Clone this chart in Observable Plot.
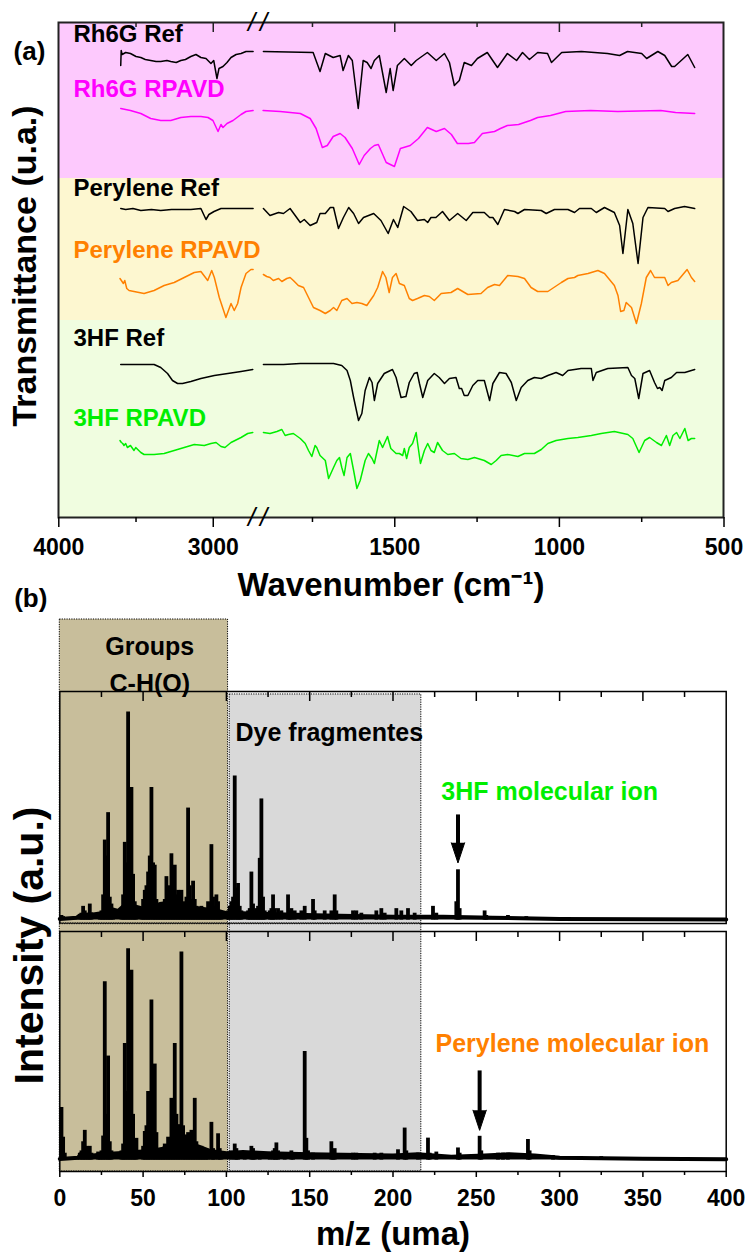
<!DOCTYPE html>
<html><head><meta charset="utf-8">
<script src="https://cdn.jsdelivr.net/npm/d3@7"></script>
<script src="https://cdn.jsdelivr.net/npm/@observablehq/plot@0.6"></script>
<style>
html,body{margin:0;padding:0;background:#fff;}
#fig{position:relative;width:748px;height:1254px;overflow:hidden;background:#fff;}
#fig svg{position:absolute;left:0;overflow:visible;background:transparent;max-width:none;
  font-family:"Liberation Sans",Arial,sans-serif;font-weight:bold;font-size:23px;}
</style></head><body><div id="fig"></div>
<script>
// ---------- Panel (a): FTIR spectra (wavenumber cm-1, transmittance a.u. with offsets) ----------
const IR_LABELS = ["Rh6G Ref","Rh6G RPAVD","Perylene Ref","Perylene RPAVD","3HF Ref","3HF RPAVD"];
const WN_TICKS = [4000, 3000, 1500, 1000, 500];
const WN_MINOR = [3500, 1750, 1250, 750];

const RH6G_REF_L = [[3599,452],[3596,467],[3590,463],[3567,465],[3536,464],[3500,461],[3469,460],[3440,458],[3405,457],[3370,456],[3340,456],[3300,457],[3275,456],[3240,455],[3210,457],[3180,458],[3145,461],[3112,463],[3080,460],[3047,459],[3015,454],[2997,457],[2976,439],[2963,449],[2937,451],[2911,455],[2885,460],[2852,463],[2820,464],[2788,466],[2742,466]];
const RH6G_REF_R = [[1899,466],[1748,465],[1727,446],[1711,464],[1687,460],[1666,462],[1657,447],[1641,462],[1629,457],[1611,409],[1596,457],[1584,455],[1572,449],[1562,457],[1547,462],[1526,425],[1514,449],[1505,427],[1492,452],[1471,459],[1450,452],[1435,457],[1401,465],[1374,457],[1349,464],[1334,455],[1319,432],[1304,437],[1289,455],[1267,452],[1249,459],[1219,465],[1188,450],[1158,464],[1130,457],[1112,465],[1091,458],[1066,465],[1036,464],[1024,455],[993,465],[933,466],[854,464],[817,462],[793,466],[750,464],[735,459],[701,466],[680,462],[659,451],[650,451],[610,463],[589,450]];
const RH6G_RPAVD_L = [[3599,409],[3536,407],[3469,404],[3405,399],[3340,397],[3275,397],[3210,400],[3145,401],[3080,401],[3034,400],[3002,397],[2969,386],[2950,393],[2937,390],[2911,394],[2872,397],[2820,403],[2788,406],[2742,407]];
const RH6G_RPAVD_R = [[1900,407],[1848,406],[1787,404],[1757,399],[1739,389],[1720,370],[1705,372],[1687,381],[1666,384],[1651,380],[1629,369],[1608,353],[1593,362],[1574,369],[1562,372],[1550,373],[1526,355],[1501,351],[1483,369],[1453,372],[1428,379],[1401,390],[1374,386],[1349,389],[1328,383],[1310,374],[1276,374],[1258,375],[1234,384],[1197,386],[1179,389],[1158,392],[1124,393],[1088,397],[1066,400],[1027,402],[981,406],[905,407],[823,406],[692,407],[647,405],[589,404]];
const PER_REF_L = [[3599,309],[3567,308],[3520,309],[3469,307],[3400,308],[3340,307],[3270,308],[3210,308],[3145,308],[3080,309],[3047,298],[3028,303],[2995,306],[2950,309],[2852,309],[2742,309]];
const PER_REF_R = [[1899,309],[1879,302],[1853,305],[1838,304],[1818,309],[1787,295],[1775,298],[1757,292],[1737,295],[1727,304],[1711,304],[1696,310],[1686,310],[1671,289],[1656,300],[1640,310],[1625,304],[1610,294],[1595,300],[1564,304],[1542,297],[1520,284],[1504,298],[1491,290],[1473,311],[1451,306],[1431,297],[1410,298],[1400,295],[1390,300],[1375,300],[1355,306],[1334,297],[1309,304],[1283,297],[1263,305],[1228,305],[1212,300],[1202,300],[1187,293],[1167,308],[1136,306],[1126,304],[1106,308],[1055,307],[1040,304],[1015,308],[974,308],[954,305],[939,309],[903,309],[888,305],[863,310],[833,305],[817,292],[807,264],[792,308],[777,294],[761,254],[746,300],[731,310],[680,309],[670,306],[650,309],[620,311],[589,309]];
const PER_RPAVD_L = [[3604,239],[3595,237],[3582,234],[3573,237],[3560,229],[3545,227],[3513,226],[3448,224],[3383,227],[3318,232],[3253,235],[3188,240],[3123,245],[3080,246],[3036,237],[3010,247],[2993,240],[2961,220],[2918,200],[2885,214],[2864,207],[2842,214],[2820,230],[2788,244],[2756,248],[2742,248]];
const PER_RPAVD_R = [[1899,243],[1889,241],[1879,240],[1869,237],[1853,239],[1843,236],[1828,239],[1818,240],[1808,237],[1793,232],[1777,230],[1762,220],[1747,210],[1727,207],[1711,204],[1696,207],[1686,210],[1676,207],[1661,217],[1645,219],[1630,214],[1615,215],[1600,214],[1585,212],[1564,222],[1552,230],[1537,246],[1527,240],[1517,225],[1507,240],[1496,244],[1486,234],[1471,232],[1456,219],[1446,217],[1431,219],[1410,222],[1395,221],[1380,217],[1359,224],[1329,225],[1309,229],[1278,223],[1238,224],[1218,230],[1197,233],[1182,232],[1157,242],[1126,241],[1106,239],[1086,230],[1066,226],[1035,226],[994,235],[974,239],[954,240],[944,242],[913,244],[883,247],[863,244],[833,232],[822,222],[814,206],[804,207],[797,215],[781,210],[766,194],[751,214],[736,240],[723,247],[711,240],[680,240],[670,232],[660,235],[640,237],[612,248],[599,240],[589,236]];
const HF_REF_L = [[3599,153],[3383,153],[3340,150],[3296,144],[3264,137],[3231,134],[3199,134],[3145,136],[3080,139],[2993,142],[2906,144],[2820,146],[2744,148]];
const HF_REF_R = [[1899,153],[1838,153],[1787,154],[1747,154],[1686,154],[1661,152],[1645,147],[1635,137],[1625,120],[1610,97],[1600,104],[1590,127],[1577,140],[1569,135],[1562,117],[1552,134],[1532,144],[1507,148],[1496,140],[1481,120],[1466,121],[1456,135],[1441,144],[1432,145],[1425,134],[1415,120],[1400,137],[1380,144],[1365,140],[1349,134],[1334,139],[1314,140],[1304,129],[1297,129],[1289,122],[1278,122],[1263,132],[1248,137],[1228,137],[1212,117],[1202,134],[1182,145],[1162,144],[1146,135],[1131,117],[1116,130],[1096,137],[1076,140],[1055,139],[1035,142],[1010,145],[990,142],[974,147],[934,149],[903,149],[898,137],[888,145],[853,149],[792,150],[781,142],[771,139],[759,119],[746,144],[726,147],[711,135],[702,129],[695,130],[688,127],[680,137],[660,140],[644,145],[619,145],[589,148]];
const HF_RPAVD_L = [[3604,77],[3595,75],[3586,74],[3578,72],[3567,74],[3556,70],[3536,72],[3513,67],[3502,70],[3469,65],[3448,63],[3383,63],[3318,64],[3253,67],[3188,70],[3123,73],[3058,72],[3015,74],[2982,75],[2950,71],[2924,70],[2885,75],[2820,80],[2777,84],[2744,85]];
const HF_RPAVD_R = [[1899,85],[1879,84],[1858,86],[1843,88],[1833,82],[1823,83],[1808,84],[1787,79],[1772,74],[1762,67],[1752,61],[1742,72],[1737,70],[1727,62],[1711,57],[1701,39],[1686,50],[1676,57],[1668,60],[1661,50],[1654,42],[1645,60],[1635,64],[1625,47],[1615,29],[1605,37],[1590,57],[1580,64],[1569,59],[1562,54],[1547,77],[1537,70],[1522,81],[1512,69],[1496,64],[1486,64],[1476,62],[1471,69],[1464,59],[1456,70],[1446,74],[1435,85],[1431,75],[1422,54],[1410,67],[1400,74],[1390,67],[1380,65],[1370,75],[1355,67],[1339,63],[1319,64],[1299,59],[1278,58],[1258,60],[1228,57],[1207,53],[1192,57],[1177,62],[1157,63],[1126,61],[1106,64],[1076,64],[1055,68],[1035,74],[1010,77],[974,79],[944,80],[903,82],[873,84],[833,86],[792,83],[777,79],[758,65],[741,77],[726,80],[705,75],[690,72],[675,82],[665,72],[655,82],[644,85],[634,79],[619,89],[609,77],[599,79],[589,79]];

// ---------- Panel (b): mass spectra (m/z, relative intensity) ----------
const MZ_TICKS = [0, 50, 100, 150, 200, 250, 300, 350, 400];
const MZ_MINOR = [25, 75, 125, 175, 225, 275, 325, 375];
const ZONE_START = [0, 102];
const ZONE_END = [101, 217];

const PEAKS_3HF = [[1,2],[2,1.5],[12,2],[13,3],[14,6],[15,4],[16,3],[17,2],[18,7],[19,3],[24,3],[25,4],[26,11],[27,35],[28,28],[29,47],[30,10],[31,7],[32,4],[37,5],[38,11],[39,34],[40,25],[41,91],[42,30],[43,58],[44,20],[45,8],[46,4],[49,5],[50,9],[51,13],[52,15],[53,21],[54,28],[55,58],[56,25],[57,24],[58,9],[59,6],[60,4],[61,5],[62,6],[63,9],[64,19],[65,15],[66,14],[67,29],[68,18],[69,24],[70,11],[71,13],[72,8],[73,13],[74,7],[75,8],[76,10],[77,49],[78,15],[79,9],[80,17],[81,9],[82,6],[83,5],[84,4],[85,6],[86,5],[87,4],[88,5],[89,8],[90,6],[91,33],[92,10],[93,6],[94,11],[95,8],[96,4],[97,3],[101,4],[102,6],[103,8],[104,10],[105,63],[106,14],[107,16],[108,6],[109,4],[113,4],[114,5],[115,21],[116,7],[117,4],[118,5],[119,6],[120,27],[121,53],[122,10],[123,4],[126,4],[127,5],[128,11],[129,5],[131,5],[133,4],[137,11],[138,4],[139,5],[141,4],[145,4],[147,6],[152,9],[153,4],[159,4],[163,4],[165,11],[166,4],[176,4],[178,4],[181,3],[190,4],[193,5],[195,3],[202,5],[205,4],[209,5],[213,3],[224,6],[226,3],[238,8],[239,22],[240,5],[255,4],[256,2],[269,2],[280,1.5]];
const BASE_3HF = [[0,0.5],[10,1],[12,2],[20,2.5],[25,3],[30,5],[35,4],[38,6],[45,6],[50,5],[60,7],[70,8],[75,6],[85,5],[95,4],[100,3],[110,3],[130,2.5],[160,2],[200,1.5],[230,1.5],[260,1],[300,0.5],[400,0.3]];
const PEAKS_PER = [[1,23],[2,10],[3,3],[12,3],[13,4],[14,8],[15,13],[16,6],[17,3],[18,6],[19,3],[23,3.5],[24,3],[25,4],[26,10.5],[27,78],[28,20],[29,45.5],[30,8],[31,4],[37,4],[38,7],[39,51],[40,30],[41,92.5],[42,45],[43,83],[44,20],[45,6],[46,9.5],[50,6],[51,12.5],[52,15],[53,30],[54,30],[55,70],[56,28],[57,42],[58,12],[59,5],[60,4],[61,4],[62,5],[63,7],[64,6],[65,10],[66,9],[67,27],[68,15],[69,51],[70,20],[71,15.5],[72,10],[73,91],[74,15],[75,10],[76,11],[77,12],[78,10],[79,13],[80,9],[81,27],[82,8],[83,6],[84,5],[85,6],[86,4],[87,4],[88,5],[89,4],[91,16.5],[92,5],[93,4],[95,11.5],[96,5],[97,3],[103,4],[105,7],[106,5],[107,3],[111,3],[115,6],[116,5],[117,3],[120,3],[126,3],[128,4],[129,5],[130,7.5],[131,4],[135,3],[139,4],[140,3],[147,47.5],[148,9.5],[149,4],[152,3],[163,8],[164,4],[165,5],[176,3],[178,3],[189,3],[193,3],[203,4.5],[207,14],[208,4],[215,3],[221,9.6],[222,3],[226,3.5],[239,5.3],[240,3],[252,10.4],[253,4],[263,3],[266,3],[269,3],[281,9],[282,4],[296,2],[325,1.5]];
const BASE_PER = [[0,0.5],[11,1],[13,3],[20,2],[25,2.5],[35,3],[45,3.5],[55,4],[62,5],[66,7],[75,8],[83,6],[90,4],[100,3],[110,3.5],[125,3],[150,2.5],[200,2],[215,2.5],[235,1.5],[255,2],[270,2.5],[285,2],[300,1],[350,0.6],[400,0.4]];
// molecular-ion annotations: m/z, arrow tail and tip intensity
const ION_3HF = {mz: 239, tail: 46, tip: 25};
const ION_PER = {mz: 252, tail: 39, tip: 13};

// ---------- build panel (a) ----------
const irRows = [];
function addIR(name, seg, arr) { for (const [wn, t] of arr) irRows.push({name, seg, wn, t}); }
addIR("Rh6G Ref","L",RH6G_REF_L); addIR("Rh6G Ref","R",RH6G_REF_R);
addIR("Rh6G RPAVD","L",RH6G_RPAVD_L); addIR("Rh6G RPAVD","R",RH6G_RPAVD_R);
addIR("Perylene Ref","L",PER_REF_L); addIR("Perylene Ref","R",PER_REF_R);
addIR("Perylene RPAVD","L",PER_RPAVD_L); addIR("Perylene RPAVD","R",PER_RPAVD_R);
addIR("3HF Ref","L",HF_REF_L); addIR("3HF Ref","R",HF_REF_R);
addIR("3HF RPAVD","L",HF_RPAVD_L); addIR("3HF RPAVD","R",HF_RPAVD_R);

const FONT = "Liberation Sans, Arial, sans-serif";
const fig = document.getElementById("fig");
const one = [0];
const intFmt = d3.format("d");
const slash = (anchor, dx) => Plot.text(one, {frameAnchor: anchor, x: 2720, dx, lineAnchor: "middle", text: () => "/",
  fontSize: 26, fontStyle: "italic", fontWeight: "normal", fontFamily: FONT});

const A = Plot.plot({
  width: 748, height: 590,
  marginTop: 22, marginBottom: 73, marginLeft: 58, marginRight: 25,
  x: {type: "linear", domain: [4000, 2720, 1920, 500], range: [58.3, 256, 256, 723.5]},
  y: {domain: [0, 495], axis: null},
  color: {domain: IR_LABELS, range: ["#000000","#ff00ff","#000000","#ff8000","#000000","#00ee00"]},
  marks: [
    Plot.rect(one, {y1: 339, y2: 495, fill: "#fdc9fd"}),
    Plot.rect(one, {y1: 197, y2: 339, fill: "#fdf7d0"}),
    Plot.rect(one, {y1: 0, y2: 197, fill: "#f0fde0"}),
    Plot.line(irRows, {x: "wn", y: "t", z: d => d.name + d.seg, stroke: "name", strokeWidth: 1.5}),
    Plot.text(IR_LABELS, {frameAnchor: "left", dx: 15, y: [483, 428, 329, 267, 179, 99], text: d => d, fill: d => d,
      textAnchor: "start", fontSize: 24, fontWeight: "bold", fontFamily: FONT}),
    Plot.frame({stroke: "#222", strokeWidth: 2}),
    Plot.ruleX(WN_TICKS.slice(1, -1), {insetBottom: 485, stroke: "#222", strokeWidth: 1.5}),
    Plot.ruleX(WN_MINOR, {insetBottom: 490, stroke: "#222", strokeWidth: 1.5}),
    Plot.axisX({ticks: WN_TICKS, tickSize: 10, tickPadding: 11, tickFormat: intFmt, label: null, fontSize: 23, fontWeight: "bold", fontFamily: FONT, strokeWidth: 1.5}),
    Plot.axisX({ticks: WN_MINOR, tickSize: 5, tickFormat: () => "", label: null, strokeWidth: 1.5}),
    slash("top", -5), slash("top", 7), slash("bottom", -5), slash("bottom", 7),
    Plot.text(["(a)"], {frameAnchor: "top-left", dx: -29, dy: 29, textAnchor: "middle", lineAnchor: "middle", text: d => d, fontSize: 26, fontWeight: "bold", fontFamily: FONT}),
    Plot.text(["Transmittance (u.a.)"], {frameAnchor: "left", dx: -33, dy: -4, rotate: -90, textAnchor: "middle", lineAnchor: "middle", text: d => d, fontSize: 34, fontWeight: "bold", fontFamily: FONT}),
    Plot.text(["Wavenumber (cm⁻¹)"], {frameAnchor: "bottom", dy: 68, textAnchor: "middle", lineAnchor: "middle", text: d => d, fontSize: 33, fontWeight: "bold", fontFamily: FONT})
  ]
});
A.style.top = "0px";
fig.appendChild(A);

// ---------- build panel (b) ----------
const zones = ZONE_START.map((s, i) => ({i, from: s, to: ZONE_END[i]}));
function arrowHead(ion) {
  return [[ion.mz - 4, ion.tip + 8.8], [ion.mz, ion.tip], [ion.mz + 4, ion.tip + 8.8]];
}
function spectrumMarks(peaks, base) {
  return [
    Plot.areaY(base, {x: d => d[0], y1: 0, y2: d => d[1], fill: "black"}),
    Plot.line(base, {x: d => d[0], y: d => d[1], stroke: "black", strokeWidth: 4}),
    Plot.ruleX(peaks, {x: d => d[0], y1: 0, y2: d => d[1], stroke: "black", strokeWidth: 3.8})
  ];
}
function arrowMarks(ion) {
  return [
    Plot.ruleX([ion], {x: "mz", y1: ion.tip + 8, y2: ion.tail, stroke: "black", strokeWidth: 4}),
    Plot.line(arrowHead(ion), {x: d => d[0], y: d => d[1], fill: "black", stroke: "black", strokeWidth: 1})
  ];
}

const B1 = Plot.plot({
  width: 748, height: 341,
  marginTop: 101, marginBottom: 8, marginLeft: 59.3, marginRight: 22.3,
  x: {domain: [0, 400], axis: null},
  y: {domain: [-1.5, 100], axis: null},
  marks: [
    Plot.rect(zones.filter(d => d.i === 0), {x1: "from", x2: "to", y1: -1.5, y2: 131.5, fill: "#c8be9b"}),
    Plot.rect(zones.filter(d => d.i === 1), {x1: "from", x2: "to", y1: -1.5, y2: 98.7, fill: "#d9d9d9"}),
    Plot.rect(zones.filter(d => d.i === 0), {x1: "from", x2: "to", y1: -1.5, y2: 131.5, fill: "none", stroke: "black", strokeWidth: 1, strokeDasharray: "1.2,1.2"}),
    Plot.rect(zones.filter(d => d.i === 1), {x1: "from", x2: "to", y1: -1.5, y2: 98.7, fill: "none", stroke: "black", strokeWidth: 1, strokeDasharray: "1.2,1.2"}),
    ...spectrumMarks(PEAKS_3HF, BASE_3HF),
    Plot.frame({stroke: "black", strokeWidth: 1.5}),
    Plot.ruleX(MZ_TICKS.slice(1, -1), {insetBottom: 222, stroke: "black", strokeWidth: 1.5}),
    Plot.ruleX(MZ_MINOR, {insetBottom: 226, stroke: "black", strokeWidth: 1.5}),
    Plot.text(["Groups\nC-H(O)"], {x: 54, y: 113, text: d => d, lineHeight: 1.45, fontSize: 25, fontWeight: "bold", fontFamily: FONT}),
    Plot.text(["Dye fragmentes"], {x: 105.5, y: 82, textAnchor: "start", text: d => d, fontSize: 25, fontWeight: "bold", fontFamily: FONT}),
    Plot.text(["3HF molecular ion"], {x: 229, y: 56, textAnchor: "start", text: d => d, fill: "#00ee00", fontSize: 25, fontWeight: "bold", fontFamily: FONT}),
    ...arrowMarks(ION_3HF),
    Plot.text(["(b)"], {frameAnchor: "top-left", dx: -29, dy: -93, textAnchor: "middle", lineAnchor: "middle", text: d => d, fontSize: 26, fontWeight: "bold", fontFamily: FONT})
  ]
});
B1.style.top = "590px";
fig.appendChild(B1);

const B2 = Plot.plot({
  width: 748, height: 331,
  marginTop: 8, marginBottom: 83, marginLeft: 59.3, marginRight: 22.3,
  x: {domain: [0, 400]},
  y: {domain: [-5, 100], axis: null},
  marks: [
    Plot.rect(zones.filter(d => d.i === 0), {x1: "from", x2: "to", y1: -5, y2: 103.2, fill: "#c8be9b"}),
    Plot.rect(zones.filter(d => d.i === 1), {x1: "from", x2: "to", y1: -5, y2: 103.2, fill: "#d9d9d9"}),
    Plot.rect(zones, {x1: "from", x2: "to", y1: -5, y2: 103.2, fill: "none", stroke: "black", strokeWidth: 1, strokeDasharray: "1.2,1.2"}),
    ...spectrumMarks(PEAKS_PER, BASE_PER),
    Plot.frame({stroke: "black", strokeWidth: 1.5}),
    Plot.ruleX(MZ_TICKS.slice(1, -1), {insetBottom: 230, stroke: "black", strokeWidth: 1.5}),
    Plot.ruleX(MZ_MINOR, {insetBottom: 234, stroke: "black", strokeWidth: 1.5}),
    Plot.axisX({ticks: MZ_TICKS, tickSize: 6, tickPadding: 12, tickFormat: intFmt, label: null, fontSize: 23, fontWeight: "bold", fontFamily: FONT, strokeWidth: 1.5}),
    Plot.axisX({ticks: MZ_MINOR, tickSize: 4, tickFormat: () => "", label: null, strokeWidth: 1.5}),
    Plot.text(["Perylene molecular ion"], {x: 225.5, y: 51, textAnchor: "start", text: d => d, fill: "#ff8000", fontSize: 25, fontWeight: "bold", fontFamily: FONT}),
    ...arrowMarks(ION_PER),
    Plot.text(["m/z (uma)"], {frameAnchor: "bottom", dy: 63, textAnchor: "middle", lineAnchor: "middle", text: d => d, fontSize: 33, fontWeight: "bold", fontFamily: FONT}),
    Plot.text(["Intensity (a.u.)"], {frameAnchor: "left", dx: -30, dy: -106, rotate: -90, textAnchor: "middle", lineAnchor: "middle", text: d => d, fontSize: 41, fontWeight: "bold", fontFamily: FONT})
  ]
});
B2.style.top = "923px";
fig.appendChild(B2);
</script></body></html>
